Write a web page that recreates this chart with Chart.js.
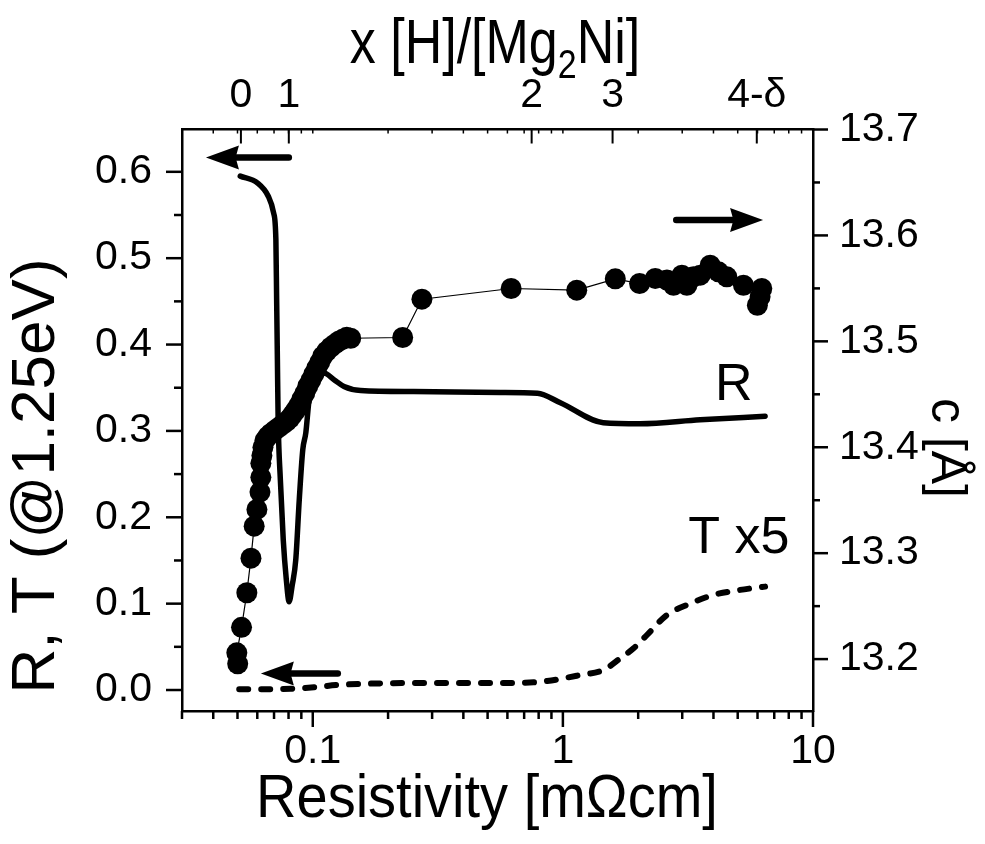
<!DOCTYPE html>
<html><head><meta charset="utf-8">
<script src="https://cdn.jsdelivr.net/npm/chart.js@4.4.1/dist/chart.umd.min.js"></script>
<style>html,body{margin:0;padding:0;background:#fff;}canvas{display:block;}</style>
</head><body>
<canvas id="chart" width="985" height="844" style="width:985px;height:844px"></canvas>
<script>
// ---- data ----
// c-axis lattice parameter (right axis) vs resistivity
const cX = [0.0501,0.0497,0.0519,0.0545,0.0566,0.0583,0.0598,0.0615,0.0620,0.0620,
  0.0626,0.0632,0.0644,0.0661,0.0680,0.0705,0.0732,0.0759,0.0787,0.0810,0.0832,0.0855,0.0879,
  0.0904,0.0929,0.0955,0.0982,0.1009,0.1037,0.1066,0.1096,0.1137,0.1180,0.1224,0.1270,0.1317,0.1367,0.1418,
  0.2288,0.2731,0.621,1.136,1.620,2.026,2.341,2.606,2.769,2.991,3.132,3.328,3.540,3.880,4.188,4.523,5.272,6.241,6.144,5.993];
const cY = [13.1955,13.2059,13.230,13.2626,13.2953,13.3255,13.3413,13.3577,13.3716,13.3848,
  13.3923,13.3999,13.4065,13.4103,13.4131,13.4160,13.4188,13.4216,13.4245,13.4273,13.4311,13.4349,13.4396,
  13.4453,13.4509,13.4576,13.4632,13.4689,13.4746,13.4802,13.4859,13.4906,13.4944,13.4973,13.5001,13.5020,13.5039,13.5029,
  13.5036,13.5398,13.5499,13.5483,13.5590,13.5546,13.5594,13.5578,13.5530,13.5625,13.5530,13.5609,13.5625,13.5719,13.5656,13.5609,13.5530,13.5499,13.5420,13.5341];
// R (reflection, left axis)
const rX = [0.0513,0.0602,0.0663,0.0697,0.0712,0.0717,0.0722,0.0727,0.0742,0.0762,0.0784,0.0804,
  0.0828,0.0855,0.0883,0.0912,0.0938,0.0967,0.1012,0.1057,0.1109,0.1216,0.1333,0.1554,0.253,0.563,0.791,0.977,1.451,2.039,3.54,6.434];
const rY = [0.595,0.587,0.572,0.5525,0.5216,0.452,0.3825,0.3129,0.2434,0.1739,0.1275,0.1023,
  0.1217,0.1507,0.2202,0.2782,0.2979,0.3361,0.350,0.3593,0.3671,0.3593,0.3515,0.3469,0.3457,0.3446,0.3436,0.3326,0.3095,0.3083,0.3129,0.317];
// T x5 (transmission, left axis)
const tX = [0.0508,0.0639,0.0817,0.1012,0.1255,0.1654,0.2537,0.563,0.7645,0.865,1.175,1.455,1.697,1.917,2.168,2.606,3.132,4.0,5.112,6.434];
const tY = [0.0008,0.0008,0.0015,0.0031,0.0058,0.0073,0.0081,0.0081,0.0089,0.0104,0.0174,0.0232,0.0367,0.0483,0.0637,0.0869,0.0985,0.1101,0.1159,0.1197];

// ---- axes / ticks ----
const xMin = 0.03, xMax = 10;
const xTickValues = [0.03,0.04,0.05,0.06,0.07,0.08,0.09,0.1,0.2,0.3,0.4,0.5,0.6,0.7,0.8,0.9,1,2,3,4,5,6,7,8,9,10];
const xMajorValues = [0.1,1,10];
const xMajorLabels = ['0.1','1','10'];
const topTickValues = [0.0516,0.0802,0.750,1.58,5.96];
const topTickLabels = ['0','1','2','3','4-\u03B4'];
const yMin = -0.0243, yMax = 0.649;
const yMajor = [0,0.1,0.2,0.3,0.4,0.5,0.6];
const yMinor = [0.05,0.15,0.25,0.35,0.45,0.55];
const y2Min = 13.151, y2Max = 13.7;
const y2Major = [13.2,13.3,13.4,13.5,13.6,13.7];
const y2Minor = [13.25,13.35,13.45,13.55,13.65];

// annotations (data coordinates)
const arrows = [
  {axis:'y',  from:[0.0802,0.6166], to:[0.0374,0.6166]},
  {axis:'y',  from:[0.1259,0.0191], to:[0.0620,0.0191]},
  {axis:'y2', from:[2.839,13.6145], to:[6.316,13.6145]}
];
const notes = [
  {text:'R',    x:4.06, y:0.336, axis:'y'},
  {text:'T x5', x:3.17, y:0.1588, axis:'y'}
];

const FONT = "'Liberation Sans', Arial, Helvetica, sans-serif";
const near = (a,b)=>Math.abs(a-b) < 1e-9*Math.max(1,Math.abs(b));

const decor = {
  id:'decor',
  afterDraw(chart){
    const ctx = chart.ctx, S = chart.scales, A = chart.chartArea;
    ctx.save();
    ctx.strokeStyle = '#000'; ctx.fillStyle = '#000'; ctx.lineCap = 'butt';
    const line = (x1,y1,x2,y2,w)=>{ctx.lineWidth=w;ctx.beginPath();ctx.moveTo(x1,y1);ctx.lineTo(x2,y2);ctx.stroke();};
    // bottom ticks (outward) + tiny top mirror ticks (inward)
    xTickValues.forEach(v=>{
      const px = S.x.getPixelForValue(v);
      const major = xMajorValues.some(m=>near(m,v));
      line(px, A.bottom, px, A.bottom + (major?16:8), 2.5);
      line(px, A.top, px, A.top + 4, 1.5);
    });
    // top custom ticks (inward)
    topTickValues.forEach(v=>{
      const px = S.x2.getPixelForValue(v);
      line(px, A.top, px, A.top + 14, 2);
    });
    // left ticks
    yMajor.forEach(v=>{const py=S.y.getPixelForValue(v); line(A.left-16,py,A.left,py,2.5);});
    yMinor.forEach(v=>{const py=S.y.getPixelForValue(v); line(A.left-8,py,A.left,py,2.5);});
    // right ticks
    y2Major.forEach(v=>{const py=S.y2.getPixelForValue(v); line(A.right,py,A.right+15,py,2.5);});
    y2Minor.forEach(v=>{const py=S.y2.getPixelForValue(v); line(A.right,py,A.right+7,py,2.5);});

    // arrows
    arrows.forEach(a=>{
      const ys = S[a.axis];
      const x1 = S.x.getPixelForValue(a.from[0]), y1 = ys.getPixelForValue(a.from[1]);
      const x2 = S.x.getPixelForValue(a.to[0]),   y2 = ys.getPixelForValue(a.to[1]);
      const dir = Math.sign(x2-x1), head = 33, hh = 12;
      ctx.lineCap = 'round';
      line(x1,y1,x2 - dir*head*0.85,y2,6.5);
      ctx.beginPath();
      ctx.moveTo(x2,y2);
      ctx.lineTo(x2 - dir*head, y2 - hh);
      ctx.lineTo(x2 - dir*head*0.9, y2);
      ctx.lineTo(x2 - dir*head, y2 + hh);
      ctx.closePath(); ctx.fill();
      ctx.lineCap = 'butt';
    });

    // inline labels
    ctx.font = `52px ${FONT}`; ctx.textAlign='left'; ctx.textBaseline='alphabetic';
    notes.forEach(n=>{
      ctx.fillText(n.text, S.x.getPixelForValue(n.x), S[n.axis].getPixelForValue(n.y));
    });

    // axis titles
    ctx.font = `56px ${FONT}`; ctx.textAlign='center'; ctx.textBaseline='middle';
    ctx.save(); ctx.translate(487, 800); ctx.scale(1, 1.08);
    ctx.fillText('Resistivity [m\u03A9cm]', 0, 0); ctx.restore();
    ctx.save(); ctx.translate(37, 476); ctx.rotate(-Math.PI/2);
    ctx.font = `62px ${FONT}`; ctx.fillText('R, T (@1.25eV)', 0, 0); ctx.restore();
    ctx.save(); ctx.translate(946, 448); ctx.rotate(Math.PI/2);
    ctx.font = `50px ${FONT}`; ctx.fillText('c [\u00C5]', 0, 0); ctx.restore();
    // top: x [H]/[Mg2Ni] with subscript
    const big = `52px ${FONT}`, small = `34px ${FONT}`;
    const p1 = 'x [H]/[Mg', p2 = '2', p3 = 'Ni]';
    ctx.font = big; const w1 = ctx.measureText(p1).width, w3 = ctx.measureText(p3).width;
    ctx.font = small; const w2 = ctx.measureText(p2).width;
    ctx.save(); ctx.translate(495, 63); ctx.scale(1, 1.22);
    let sx = -(w1+w2+w3)/2;
    ctx.textAlign='left'; ctx.textBaseline='alphabetic';
    ctx.font = big; ctx.fillText(p1, sx, 0); sx += w1;
    ctx.font = small; ctx.fillText(p2, sx, 12); sx += w2;
    ctx.font = big; ctx.fillText(p3, sx, 0);
    ctx.restore();
    ctx.restore();
  }
};

const tickFont = {family: FONT, size: 41};
new Chart(document.getElementById('chart'), {
  type: 'scatter',
  data: {
    datasets: [
      {label:'c', data: cX.map((x,i)=>({x, y:cY[i]})), xAxisID:'x', yAxisID:'y2', showLine:true,
       borderColor:'#000', borderWidth:1.2, pointRadius:10.5, pointHoverRadius:10.5,
       pointBackgroundColor:'#000', pointBorderWidth:0},
      {label:'R', data: rX.map((x,i)=>({x, y:rY[i]})), xAxisID:'x', yAxisID:'y', showLine:true,
       borderColor:'#000', borderWidth:5.5, pointRadius:0, cubicInterpolationMode:'monotone',
       borderJoinStyle:'round', borderCapStyle:'round'},
      {label:'T', data: tX.map((x,i)=>({x, y:tY[i]})), xAxisID:'x', yAxisID:'y', showLine:true,
       borderColor:'#000', borderWidth:6, pointRadius:0, cubicInterpolationMode:'monotone',
       borderDash:[9,13], borderCapStyle:'round'}
    ]
  },
  options: {
    responsive:false, animation:false, devicePixelRatio:1, events:[],
    layout:{padding:0},
    plugins:{legend:{display:false}, tooltip:{enabled:false}},
    scales:{
      x:{type:'logarithmic', position:'bottom', min:xMin, max:xMax,
         grid:{display:false, drawTicks:false}, border:{display:true, color:'#000', width:2.5},
         afterBuildTicks:s=>{ s.ticks = xTickValues.map(v=>({value:v})); },
         afterFit:s=>{ s.height = 133; },
         ticks:{autoSkip:false, maxRotation:0, minRotation:0, padding:16, color:'#000', font:tickFont,
           callback:(v)=>{ const i = xMajorValues.findIndex(m=>near(m,v)); return i>=0 ? xMajorLabels[i] : ''; }}},
      x2:{type:'logarithmic', position:'top', min:xMin, max:xMax,
         grid:{display:false, drawTicks:false}, border:{display:true, color:'#000', width:2.5},
         afterBuildTicks:s=>{ s.ticks = topTickValues.map(v=>({value:v})); },
         afterFit:s=>{ s.height = 129.5; },
         ticks:{autoSkip:false, maxRotation:0, minRotation:0, padding:9, color:'#000', font:tickFont,
           callback:(v,i)=>topTickLabels[i]}},
      y:{type:'linear', position:'left', min:yMin, max:yMax,
         grid:{display:false, drawTicks:false}, border:{display:true, color:'#000', width:2.5},
         afterBuildTicks:s=>{ s.ticks = yMajor.map(v=>({value:v})); },
         afterFit:s=>{ s.width = 182; },
         ticks:{autoSkip:false, padding:30, color:'#000', font:tickFont, callback:(v)=>v.toFixed(1)}},
      y2:{type:'linear', position:'right', min:y2Min, max:y2Max,
         grid:{display:false, drawTicks:false}, border:{display:true, color:'#000', width:2.5},
         afterBuildTicks:s=>{ s.ticks = y2Major.map(v=>({value:v})); },
         afterFit:s=>{ s.width = 172; },
         ticks:{autoSkip:false, padding:26, color:'#000', font:tickFont, callback:(v)=>v.toFixed(1)}}
    }
  },
  plugins:[decor]
});
</script>
</body></html>
